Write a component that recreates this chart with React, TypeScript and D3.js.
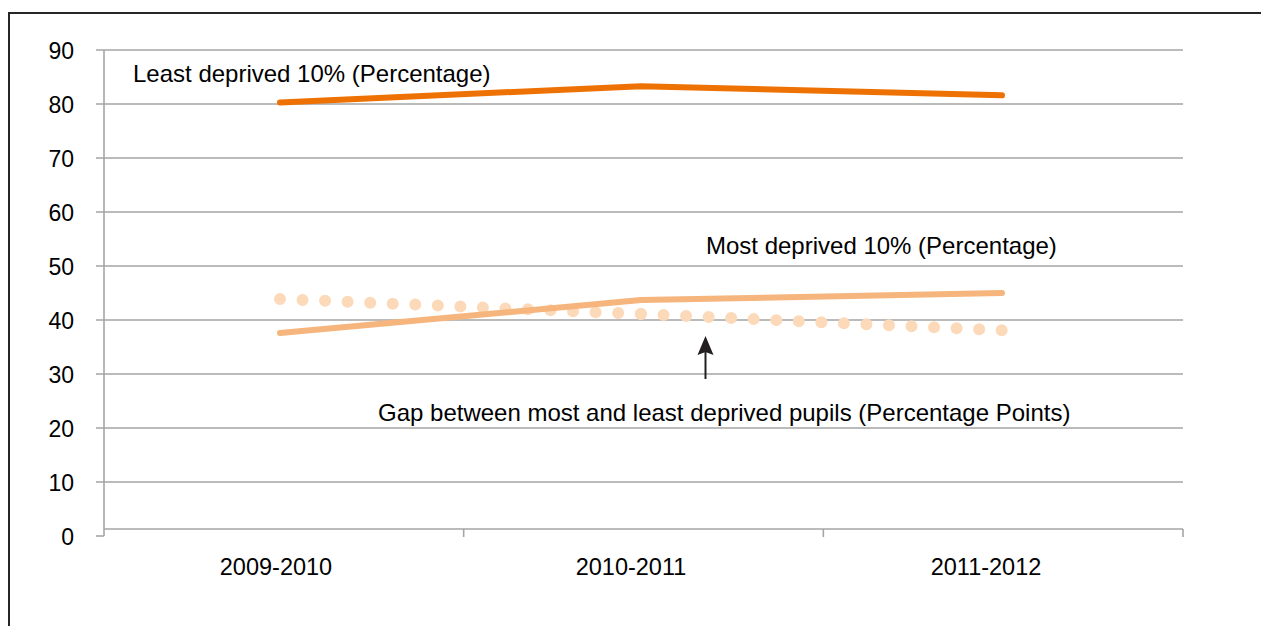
import React from "react";
import * as d3 from "d3";

const categories = ["2009-2010", "2010-2011", "2011-2012"];
const leastDeprived = [80.3, 83.3, 81.6];
const mostDeprived = [37.6, 43.7, 45.0];
const gapPoints = [43.9, 41.1, 38.1];
const yTicks = [0, 10, 20, 30, 40, 50, 60, 70, 80, 90];

const W = 1261;
const H = 626;
const FONT = "'Liberation Sans', Arial, sans-serif";

export default function App() {
  const left = 104;
  const right = 1183;
  const y = d3.scaleLinear().domain([0, 90]).range([536, 50]);
  const xBand = d3.scaleBand().domain(categories).range([left, right]);
  const xPt = d3.scalePoint().domain(categories).range([280, 1002]);
  const xLab = d3.scalePoint().domain(categories).range([276, 986]);

  const line = d3
    .line<number>()
    .x((_, i) => xPt(categories[i]) as number)
    .y((d) => y(d));

  const grid = "#a5a5a5";

  const gapSegs = gapPoints.slice(1).map((v, i) => {
    const x1 = xPt(categories[i]) as number;
    const y1 = y(gapPoints[i]);
    const x2 = xPt(categories[i + 1]) as number;
    const y2 = y(v);
    const len = Math.hypot(x2 - x1, y2 - y1);
    return { x1, y1, x2, y2, gap: len / 16 - 0.02 };
  });

  const boundaries = categories.map((c) => (xBand(c) as number) + xBand.bandwidth());

  return (
    <div style={{ position: "fixed", left: 0, top: 0, width: W, height: H, overflow: "hidden", background: "#fff" }}>
      <svg width={W} height={H} style={{ display: "block" }}>
        <rect x={0} y={0} width={W} height={H} fill="#fff" />
        <line x1={9} x2={W} y1={13} y2={13} stroke="#262626" strokeWidth={2} />
        <line x1={9} x2={9} y1={12} y2={H} stroke="#262626" strokeWidth={2} />

        {yTicks.filter((t) => t > 0).map((t) => (
          <line key={t} x1={96} x2={right} y1={y(t)} y2={y(t)} stroke={grid} strokeWidth={1.6} />
        ))}
        <line x1={left} x2={left} y1={y(90)} y2={y(0)} stroke={grid} strokeWidth={1.6} />
        <line x1={96} x2={left} y1={y(0)} y2={y(0)} stroke={grid} strokeWidth={1.6} />
        <line x1={left} x2={right} y1={529} y2={529} stroke={grid} strokeWidth={1.6} />
        {boundaries.map((b, i) => (
          <line key={i} x1={b} x2={b} y1={529} y2={537} stroke={grid} strokeWidth={1.6} />
        ))}

        {yTicks.map((t) => (
          <text
            key={t}
            x={74}
            y={y(t) + 8.5}
            textAnchor="end"
            fontFamily={FONT}
            fontSize={23}
            fill="#000"
          >
            {t}
          </text>
        ))}
        {categories.map((c) => (
          <text
            key={c}
            x={xLab(c) as number}
            y={575}
            textAnchor="middle"
            fontFamily={FONT}
            fontSize={23.5}
            fill="#000"
          >
            {c}
          </text>
        ))}

        {gapSegs.map((s, i) => (
          <line
            key={i}
            x1={s.x1}
            y1={s.y1}
            x2={s.x2}
            y2={s.y2}
            stroke="#fcd9b9"
            strokeWidth={12}
            strokeLinecap="round"
            strokeDasharray={`0 ${s.gap}`}
          />
        ))}
        <path
          d={line(mostDeprived) || ""}
          fill="none"
          stroke="#f5b57c"
          strokeWidth={6}
          strokeLinecap="round"
          strokeLinejoin="round"
        />
        <path
          d={line(leastDeprived) || ""}
          fill="none"
          stroke="#ee7203"
          strokeWidth={6}
          strokeLinecap="round"
          strokeLinejoin="round"
        />

        <text x={133} y={81.5} fontFamily={FONT} fontSize={24} fill="#000">
          Least deprived 10% (Percentage)
        </text>
        <text x={706} y={253.5} fontFamily={FONT} fontSize={24} fill="#000">
          Most deprived 10% (Percentage)
        </text>
        <text x={378} y={420.5} fontFamily={FONT} fontSize={24} fill="#000">
          Gap between most and least deprived pupils (Percentage Points)
        </text>
        <line x1={705.5} x2={705.5} y1={379} y2={350} stroke="#231f20" strokeWidth={2} />
        <path d="M705.5,336 L697.5,355 L705.5,352 L713.5,355 Z" fill="#231f20" />
      </svg>
    </div>
  );
}
